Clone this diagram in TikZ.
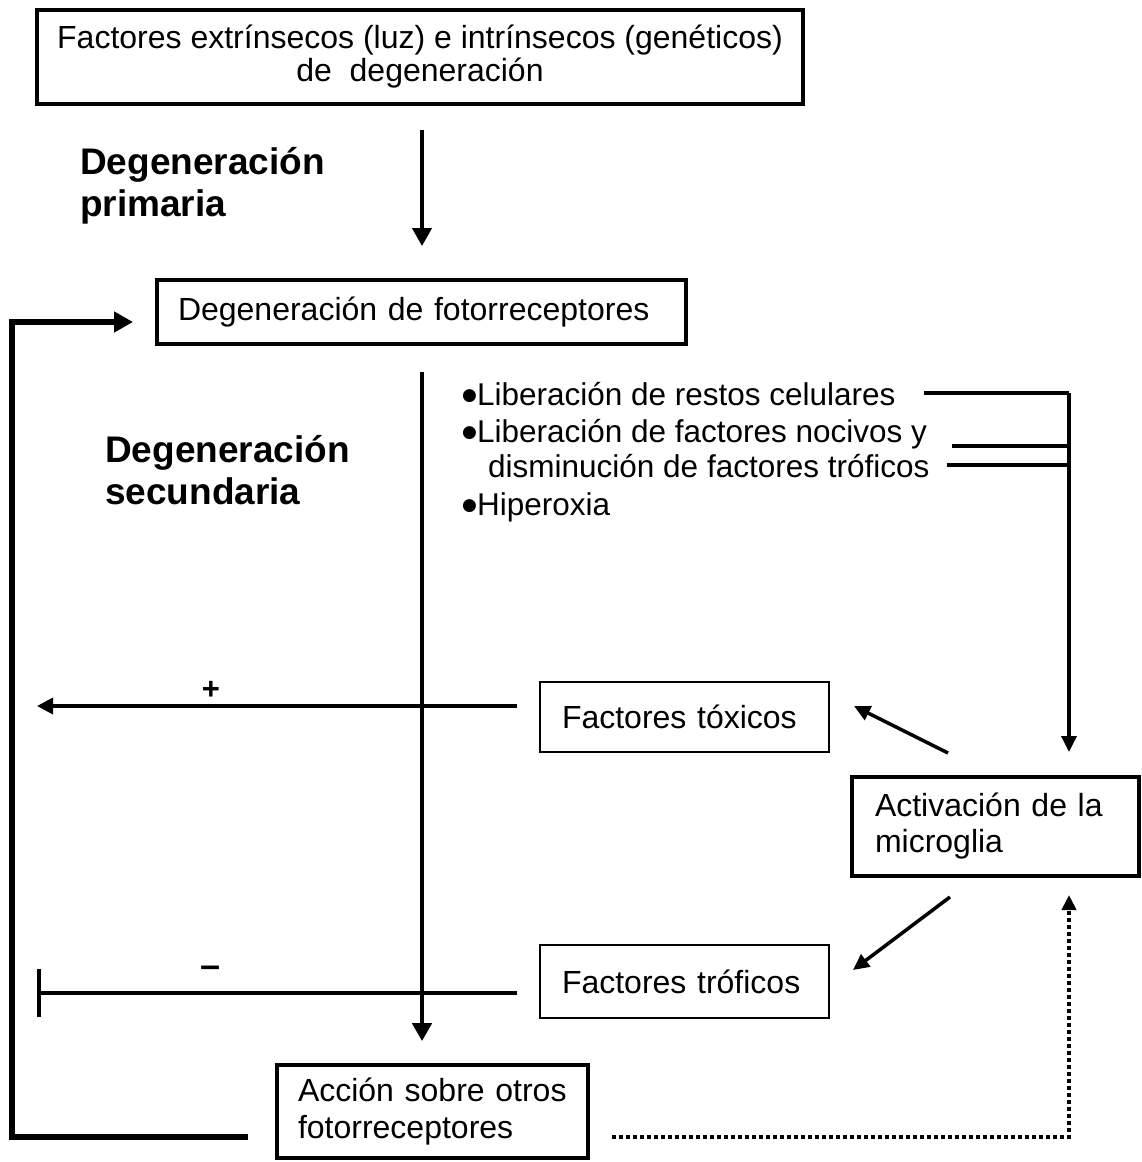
\documentclass[tikz,border=0pt]{standalone}
\usepackage{fontspec}
\setmainfont{Liberation Sans}
\newfontfamily\dejavu{DejaVu Sans}
\usetikzlibrary{arrows.meta}
\newcommand{\bul}{\raisebox{4.5pt}{\dejavu\fontsize{17}{17}\selectfont ●}}
\begin{document}
\begin{tikzpicture}[x=1pt,y=-1pt,
  txt/.style={font=\fontsize{31.5}{33}\selectfont, inner sep=0pt},
  bld/.style={font=\fontsize{37}{40}\selectfont\bfseries, inner sep=0pt},
  bx/.style={draw, line width=3.8pt, inner sep=0pt, font=\fontsize{32}{36}\selectfont},
  tbx/.style={bx, line width=2pt},
  arr/.style={line width=4pt, -{Triangle[length=18pt,width=19pt]}},
  sarr/.style={line width=3.5pt, -{Triangle[length=16pt,width=15pt]}},
]
\useasboundingbox (0,0) rectangle (1141,1162);

% boxes
\node[bx, minimum width=766pt, minimum height=94pt, align=center, font=\fontsize{32}{33}\selectfont] (top) at (420,57) {Factores extrínsecos (luz) e intrínsecos (genéticos)\\de\ \ degeneración};
\node[bx, minimum width=529pt, minimum height=64pt, text width=487pt, align=left] (fot) at (421.5,312) {Degeneración de fotorreceptores};
\node[tbx, minimum width=289pt, minimum height=70pt, text width=245pt, align=left] (tox) at (684.5,717) {Factores tóxicos};
\node[bx, minimum width=287pt, minimum height=99pt, text width=241pt, align=left, font=\fontsize{32}{36}\selectfont] (act) at (995.5,826.5) {Activación de la\\microglia};
\node[tbx, minimum width=289pt, minimum height=73pt, text width=245pt, align=left] (tro) at (684.5,981.5) {Factores tróficos};
\node[bx, minimum width=311pt, minimum height=93pt, text width=269pt, align=left, font=\fontsize{32}{37}\selectfont] (acc) at (432.5,1111.5) {Acción sobre otros\\fotorreceptores};

% labels
\node[bld, anchor=base west] (p1) at (80,174) {Degeneración};
\node[bld, anchor=base west] (p2) at (80,216) {primaria};
\node[bld, anchor=base west] (s1) at (105,462) {Degeneración};
\node[bld, anchor=base west] (s2) at (105,504) {secundaria};

\node[txt, anchor=base west] (b1) at (462,405) {\bul Liberación de restos celulares};
\node[txt, anchor=base west] (b2) at (462,442) {\bul Liberación de factores nocivos y};
\node[txt, anchor=base west] (b3) at (488,477) {disminución de factores tróficos};
\node[txt, anchor=base west] (b4) at (462,515) {\bul Hiperoxia};

\node[inner sep=0pt, font=\fontsize{31}{31}\selectfont\bfseries] (plus) at (211,690) {+};
\node[inner sep=0pt, font=\fontsize{36}{36}\selectfont\bfseries] (minus) at (211,972) {–};

% coordinates
\coordinate (vx) at (422,0);
\coordinate (fbS) at (248,1137);
\coordinate (fbC) at (12,1137);
\coordinate (fbE) at (133,322);
\coordinate (dtS) at (612,1137);
\coordinate (dtE) at (1069,895);
\coordinate (br1) at (924,393);
\coordinate (br2) at (952,446);
\coordinate (br3) at (947,465);
\coordinate (brx) at (1069,0);
\coordinate (brE) at (1069,752);
\coordinate (tx1) at (517,706);
\coordinate (tx2) at (37,706);
\coordinate (tr1) at (517,993);
\coordinate (tr2) at (37,993);
\coordinate (d1s) at (948,753);
\coordinate (d1e) at (854,706);
\coordinate (d2s) at (950,897);
\coordinate (d2e) at (853,970);

% connectors
\draw[arr, shorten <=24pt, shorten >=32pt] (top.south -| vx) -- (fot.north -| vx);
\draw[line width=4.5pt, -{Triangle[length=18pt,width=19pt]}, shorten <=26pt, shorten >=22pt] (fot.south -| vx) -- (acc.north -| vx);
\draw[line width=5.5pt, -{Triangle[length=19pt,width=20pt]}] (fbS) -- (fbC) |- (fbE);
\draw[line width=3.8pt, dash pattern=on 4pt off 3pt, -{Triangle[length=15pt,width=14pt]}] (dtS) -| (dtE);
\draw[line width=3.5pt] (br1) -- (br1 -| brx);
\draw[line width=3.5pt] (br2) -- (br2 -| brx);
\draw[line width=3.5pt] (br3) -- (br3 -| brx);
\draw[sarr] (br1 -| brx) -- (brE);
\draw[line width=3.5pt, -{Triangle[length=16pt,width=16pt]}] (tx1) -- (tx2);
\draw[line width=3.5pt, -{Bar[width=48pt]}] (tr1) -- (tr2);
\draw[sarr] (d1s) -- (d1e);
\draw[sarr] (d2s) -- (d2e);
\end{tikzpicture}
\end{document}
